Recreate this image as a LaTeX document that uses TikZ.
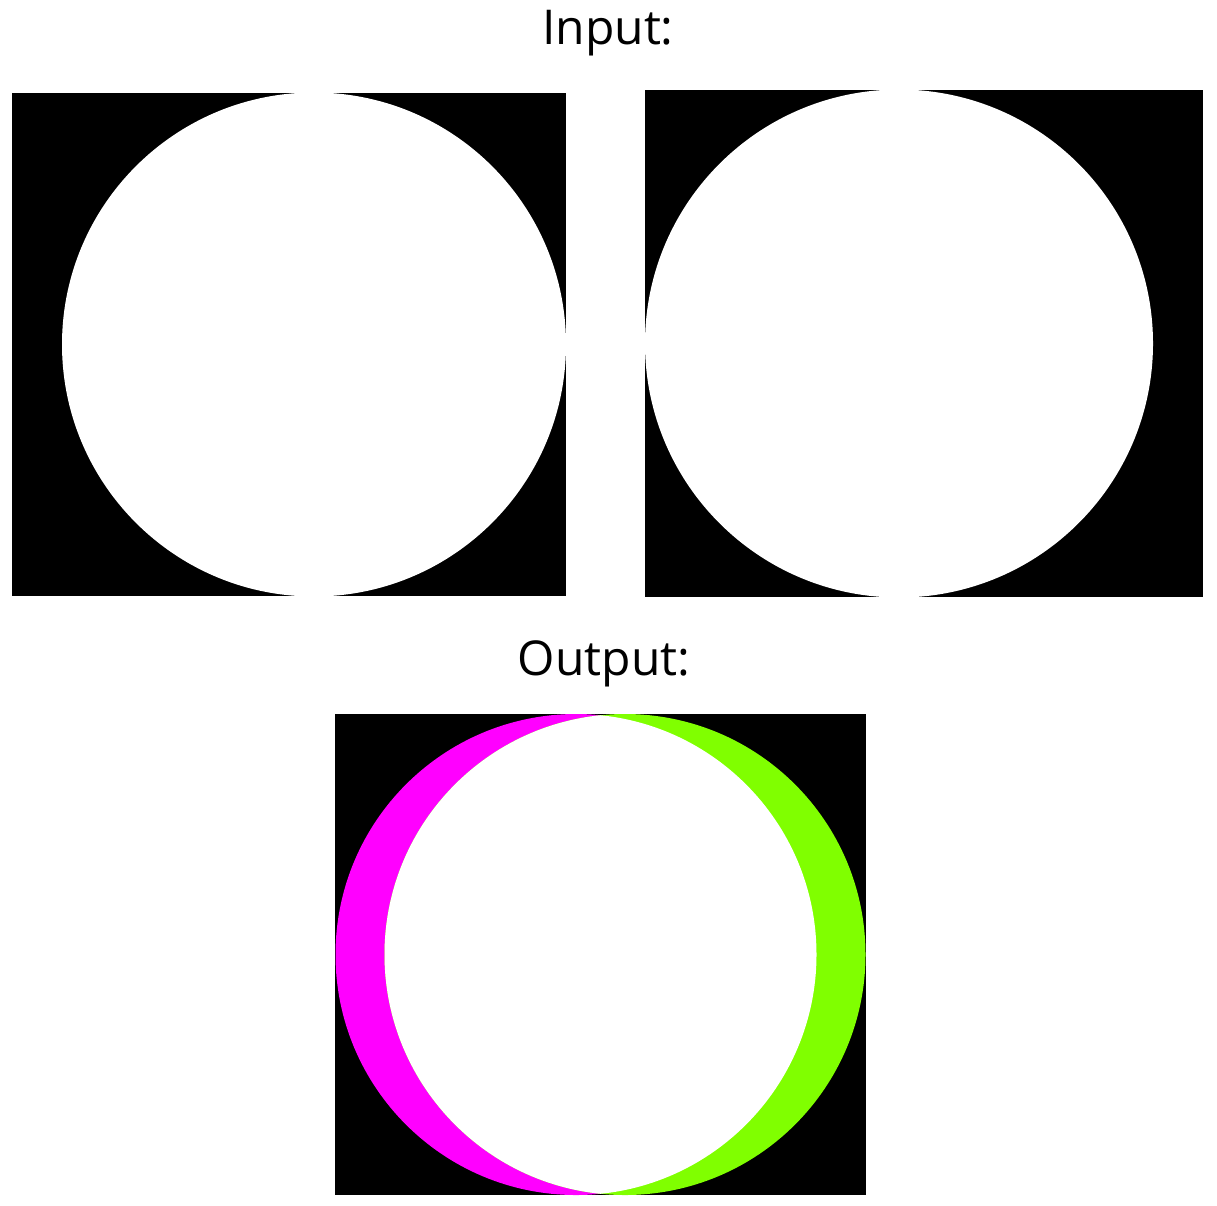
\documentclass[tikz,border=0pt]{standalone}
\usepackage{fontspec}
\setmainfont{Open Sans}
\usetikzlibrary{positioning}
\definecolor{onlyA}{RGB}{255,0,255}
\definecolor{onlyB}{RGB}{128,255,0}

\begin{document}
\begin{tikzpicture}[x=1pt,y=-1pt,
  title/.style={anchor=base,font=\fontsize{48}{56}\selectfont},
  panel/.style={fill=black}]
\useasboundingbox (0,0) rectangle (1217,1205);
% input
\node[title] (intitle) at (608,44) {Input:};
\fill[panel] (12,93) rectangle (566,596);
\fill[white] (314,344.5) circle[radius=252pt];
\fill[panel] (645,90) rectangle (1203,597);
\fill[white] (899,343.5) circle[radius=254pt];
% output
\node[title] (outtitle) at (604,675) {Output:};
\fill[panel] (335,714) rectangle (866,1195);
\fill[onlyA] (576,954.5) circle[radius=240.5pt];
\fill[onlyB] (625,954.5) circle[radius=240.5pt];
\begin{scope}
\clip (576,954.5) circle[radius=240.5pt];
\fill[white] (625,954.5) circle[radius=240.5pt];
\end{scope}
\end{tikzpicture}
\end{document}
